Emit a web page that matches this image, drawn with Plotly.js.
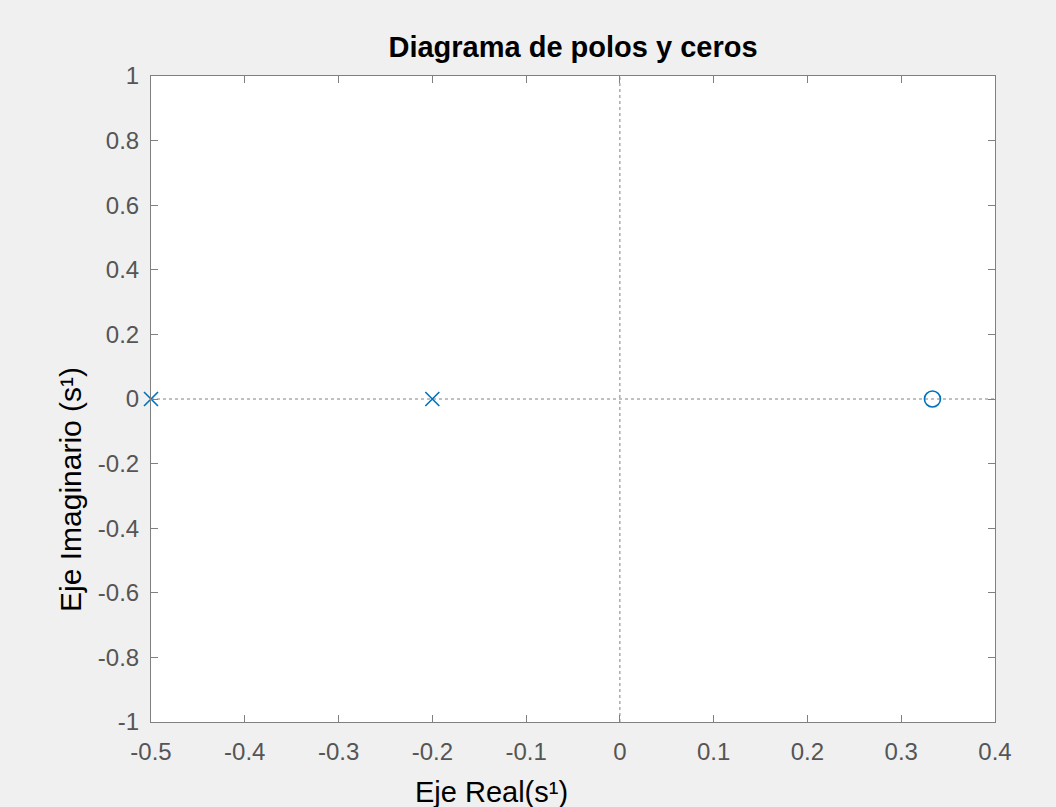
<!DOCTYPE html>
<html>
<head>
<meta charset="utf-8">
<script src="https://cdn.plot.ly/plotly-3.0.1.min.js"></script>
<style>html,body{margin:0;padding:0;background:#f0f0f0;}#plot{width:1056px;height:807px;}</style>
</head>
<body>
<div id="plot"></div>
<script>
// Data
const poleReal = [-0.5, -0.2];
const poleImag = [0, 0];
const zeroReal = [0.3333];
const zeroImag = [0];
const xTicks = [-0.5, -0.4, -0.3, -0.2, -0.1, 0, 0.1, 0.2, 0.3, 0.4];
const xTickLabels = ['-0.5', '-0.4', '-0.3', '-0.2', '-0.1', '0', '0.1', '0.2', '0.3', '0.4'];
const yTicks = [-1, -0.8, -0.6, -0.4, -0.2, 0, 0.2, 0.4, 0.6, 0.8, 1];
const yTickLabels = ['-1', '-0.8', '-0.6', '-0.4', '-0.2', '0', '0.2', '0.4', '0.6', '0.8', '1'];
const xRange = [-0.5, 0.4];
const yRange = [-1, 1];

const blue = '#0072BD';
const font = 'Liberation Sans, Arial, Helvetica, sans-serif';

const traces = [
  {x: poleReal, y: poleImag, type: 'scatter', mode: 'markers', hoverinfo: 'x+y', cliponaxis: false,
   marker: {symbol: 'x-thin-open', size: 14, color: blue, line: {color: blue, width: 1.6}}},
  {x: zeroReal, y: zeroImag, type: 'scatter', mode: 'markers', hoverinfo: 'x+y', cliponaxis: false,
   marker: {symbol: 'circle-open', size: 16, color: blue, line: {color: blue, width: 1.6}}}
];

const axisCommon = {
  showgrid: false, zeroline: false, showline: true, linecolor: '#808080', linewidth: 1,
  mirror: 'allticks', ticks: 'inside', ticklen: 7, tickwidth: 1, tickcolor: '#808080',
  tickfont: {family: font, size: 24, color: '#555555'}, tickmode: 'array', fixedrange: true
};

const layout = {
  width: 1056, height: 807,
  paper_bgcolor: '#f0f0f0', plot_bgcolor: '#ffffff',
  margin: {l: 151, r: 61, t: 76, b: 85},
  showlegend: false,
  title: {text: '<b>Diagrama de polos y ceros</b>', font: {family: font, size: 29, color: '#000'},
          x: 0.5, xref: 'paper', xanchor: 'center', y: 1 - 47 / 807, yanchor: 'middle'},
  xaxis: Object.assign({}, axisCommon, {range: xRange, tickvals: xTicks, ticktext: xTickLabels, ticklabelstandoff: 8}),
  yaxis: Object.assign({}, axisCommon, {range: yRange, tickvals: yTicks, ticktext: yTickLabels, ticklabelstandoff: 6}),
  shapes: [
    {type: 'line', xref: 'x', yref: 'paper', x0: 0, x1: 0, y0: 0, y1: 1,
     line: {color: '#808080', width: 1, dash: 'dot'}, layer: 'below'},
    {type: 'line', xref: 'paper', yref: 'y', x0: 0, x1: 1, y0: 0, y1: 0,
     line: {color: '#808080', width: 1, dash: 'dot'}, layer: 'below'}
  ],
  annotations: [
    {text: 'Eje Real(s¹)', xref: 'paper', yref: 'paper', x: (491 - 151) / 844, y: (722 - 792) / 646,
     xanchor: 'center', yanchor: 'middle', showarrow: false, font: {family: font, size: 29, color: '#000'}},
    {text: 'Eje Imaginario (s¹)', xref: 'paper', yref: 'paper', x: (70 - 151) / 844, y: (722 - 490) / 646,
     xanchor: 'center', yanchor: 'middle', textangle: -90, showarrow: false, font: {family: font, size: 30, color: '#000'}}
  ]
};

Plotly.newPlot('plot', traces, layout, {displayModeBar: false, staticPlot: true});
</script>
</body>
</html>
